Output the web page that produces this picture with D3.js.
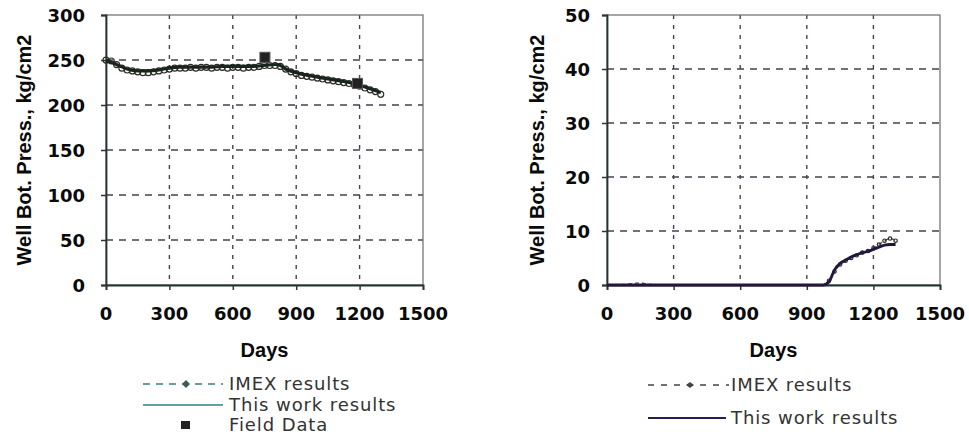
<!DOCTYPE html>
<meta charset="utf-8">
<style>
  body { margin: 0; padding: 0; background: #fff; }
  svg { display: block; background: #fff; }
  .tick-lbl { font-family: "DejaVu Sans", sans-serif; font-weight: bold; font-size: 18px; fill: #0a0a0a; }
  .ax-title { font-family: "Liberation Sans", Arial, sans-serif; font-weight: bold; font-size: 20px; fill: #0a0a0a; }
  .leg { font-family: "DejaVu Sans", sans-serif; font-size: 18px; fill: #333; letter-spacing: 0.9px; }
</style>
<script src="https://d3js.org/d3.v7.min.js"></script>
<svg id="vis" width="969" height="436"></svg>
<script>

// ---- data ----
const xTicks = [0, 300, 600, 900, 1200, 1500];
const leftYTicks = [0, 50, 100, 150, 200, 250, 300];
const rightYTicks = [0, 10, 20, 30, 40, 50];

const imexDays = [0,25,50,75,100,125,150,175,200,225,250,275,300,325,350,375,400,425,450,475,500,
  525,550,575,600,625,650,675,700,725,750,775,800,825,850,875,900,925,950,975,1000,
  1025,1050,1075,1100,1125,1150,1175,1200,1225,1250,1275,1300];

const imexLeft = [251,250,246,242,240,239,238,237,237,238,239,240,241,242,242,242,243,242,243,243,242,
  243,243,242,243,243,242,243,243,244,245,245,245,244,241,238,236,234,233,232,231,
  230,229,228,227,226,225,224,222,220,218,216,213];

const workDaysLeft = [0,50,100,150,200,250,300,350,400,450,500,550,600,650,700,750,800,825,850,
  900,950,1000,1050,1100,1150,1200,1250,1300];
const workLeft = [250,245,240,238,238,239,241,242,242,242,242,243,243,243,243,244,245,244,240,
  236,233,231,229,227,225,222,218,214];

const fieldDays = [752, 1190];
const fieldLeft = [253, 224];

const imexRight = [0,0,0,0.1,0.2,0.3,0.4,0.2,0.1,0,0,0,0,0,0,0,0,0,0,0,0,
  0,0,0,0,0,0,0,0,0,0,0,0,0,0,0,0,0,0,0.1,0.8,
  2.5,3.8,4.5,5.0,5.5,6.0,6.3,6.8,7.5,8.2,8.6,8.2];

const workDaysRight = [0,100,200,300,400,500,600,700,800,900,975,1000,1025,1050,1075,1100,
  1125,1150,1175,1200,1225,1250,1275,1300];
const workRight = [0,0,0,0,0,0,0,0,0,0,0,0.6,2.8,4.0,4.6,5.2,5.6,6.0,6.2,6.6,7.0,7.4,7.5,7.5];

const zip = (xs, ys) => xs.map((d, i) => [d, ys[i]]);

const svg = d3.select("#vis");

function panel(cfg) {
  const x = d3.scaleLinear().domain([0, 1500]).range([cfg.left, cfg.right]);
  const y = d3.scaleLinear().domain([0, cfg.yMax]).range([cfg.bottom, cfg.top]);
  const g = svg.append("g");

  // grid
  g.selectAll(".hg").data(cfg.yTicks.slice(1, -1)).enter().append("line")
    .attr("x1", cfg.left).attr("x2", cfg.right)
    .attr("y1", d => y(d)).attr("y2", d => y(d))
    .attr("stroke", "#4a3f4f").attr("stroke-width", 1.4).attr("stroke-dasharray", "7,6");
  g.selectAll(".vg").data(xTicks.slice(1, -1)).enter().append("line")
    .attr("y1", cfg.top).attr("y2", cfg.bottom)
    .attr("x1", d => x(d)).attr("x2", d => x(d))
    .attr("stroke", "#4a3f4f").attr("stroke-width", 1.4).attr("stroke-dasharray", "4,6");

  // frame
  g.append("rect").attr("x", cfg.left).attr("y", cfg.top)
    .attr("width", cfg.right - cfg.left).attr("height", cfg.bottom - cfg.top)
    .attr("fill", "none").attr("stroke", "#6a6a6a").attr("stroke-width", 1.2);

  // axes
  const xa = g.append("g").attr("transform", `translate(0,${cfg.bottom})`)
    .call(d3.axisBottom(x).tickValues(xTicks).tickSize(5).tickFormat(""));
  xa.select(".domain").attr("stroke", "#233").attr("stroke-width", 1.8);
  xa.selectAll(".tick line").attr("stroke", "#333").attr("stroke-width", 1.5);
  const ya = g.append("g").attr("transform", `translate(${cfg.left},0)`)
    .call(d3.axisLeft(y).tickValues(cfg.yTicks).tickSize(5).tickFormat(""));
  ya.select(".domain").attr("stroke", "#233").attr("stroke-width", 1.8);
  ya.selectAll(".tick line").attr("stroke", "#333").attr("stroke-width", 1.5);

  g.selectAll(".xl").data(xTicks).enter().append("text")
    .attr("class", "tick-lbl").attr("text-anchor", "middle")
    .attr("x", d => x(d)).attr("y", cfg.bottom + 35).text(d => d);
  g.selectAll(".yl").data(cfg.yTicks).enter().append("text")
    .attr("class", "tick-lbl").attr("text-anchor", "end")
    .attr("x", cfg.left - cfg.ylGap).attr("y", d => y(d) + 7).text(d => d);

  g.append("text").attr("class", "ax-title").attr("text-anchor", "middle")
    .attr("x", (cfg.left + cfg.right) / 2).attr("y", cfg.bottom + 72).text("Days");
  g.append("text").attr("class", "ax-title").attr("text-anchor", "middle")
    .attr("transform", `translate(${cfg.yTitleX},${(cfg.top + cfg.bottom) / 2}) rotate(-90)`)
    .text("Well Bot. Press., kg/cm2");

  const line = d3.line().x(d => x(d[0])).y(d => y(d[1])).curve(d3.curveMonotoneX);

  // IMEX
  g.append("path").datum(cfg.imex).attr("d", line)
    .attr("fill", "none").attr("stroke", cfg.imexColor).attr("stroke-width", 1.3)
    .attr("stroke-dasharray", "4,3");
  g.selectAll(".im").data(cfg.imex.filter(d => d[1] > cfg.markFrom)).enter().append("circle")
    .attr("cx", d => x(d[0])).attr("cy", d => y(d[1]) + cfg.markDy).attr("r", cfg.markR)
    .attr("fill", "none").attr("stroke", "#2e2e26").attr("stroke-width", 1.2);

  // this work
  g.append("path").datum(cfg.work).attr("d", line)
    .attr("fill", "none").attr("stroke", cfg.workColor).attr("stroke-width", cfg.workW);

  if (cfg.field) {
    g.selectAll(".fd").data(cfg.field).enter().append("rect")
      .attr("x", d => x(d[0]) - 5).attr("y", d => y(d[1]) - 5)
      .attr("width", 10).attr("height", 10)
      .attr("fill", "#222").attr("stroke", "#555").attr("stroke-width", 1);
  }
  return g;
}

panel({
  left: 106, right: 423, top: 15, bottom: 285, yMax: 300, yTicks: leftYTicks,
  ylGap: 21, yTitleX: 31,
  imex: zip(imexDays, imexLeft), work: zip(workDaysLeft, workLeft), field: zip(fieldDays, fieldLeft),
  imexColor: "#3b6f7a", workColor: "#17261d", workW: 3.2, markR: 3, markDy: 1, markFrom: -1
});

panel({
  left: 607, right: 940, top: 15, bottom: 285, yMax: 50, yTicks: rightYTicks,
  ylGap: 17, yTitleX: 544,
  imex: zip(imexDays, imexRight), work: zip(workDaysRight, workRight), field: null,
  imexColor: "#4b4b5a", workColor: "#24173f", workW: 2.8, markR: 1.7, markDy: 0, markFrom: 0.5
});

// legends
const lg = svg.append("g");
// left
lg.append("line").attr("x1", 143).attr("x2", 223).attr("y1", 384).attr("y2", 384)
  .attr("stroke", "#3b7a80").attr("stroke-width", 1.6).attr("stroke-dasharray", "7,6");
lg.append("path").attr("d", "M186,380L190,384L186,388L182,384Z").attr("fill", "#3c5a5a");
lg.append("text").attr("class", "leg").attr("x", 229).attr("y", 390).text("IMEX results");
lg.append("line").attr("x1", 143).attr("x2", 223).attr("y1", 405).attr("y2", 405)
  .attr("stroke", "#2f7f8c").attr("stroke-width", 1.6);
lg.append("text").attr("class", "leg").attr("x", 229).attr("y", 411).text("This work results");
lg.append("rect").attr("x", 181).attr("y", 421).attr("width", 9).attr("height", 8).attr("fill", "#222");
lg.append("text").attr("class", "leg").attr("x", 229).attr("y", 431).text("Field Data");
// right
lg.append("line").attr("x1", 648).attr("x2", 729).attr("y1", 385).attr("y2", 385)
  .attr("stroke", "#444").attr("stroke-width", 1.6).attr("stroke-dasharray", "6,7");
lg.append("path").attr("d", "M690,382L694,385L690,388L686,385Z").attr("fill", "#444");
lg.append("text").attr("class", "leg").attr("x", 731).attr("y", 391).text("IMEX results");
lg.append("line").attr("x1", 648).attr("x2", 726).attr("y1", 418).attr("y2", 418)
  .attr("stroke", "#2b1c52").attr("stroke-width", 1.8);
lg.append("text").attr("class", "leg").attr("x", 731).attr("y", 424).text("This work results");

</script>
